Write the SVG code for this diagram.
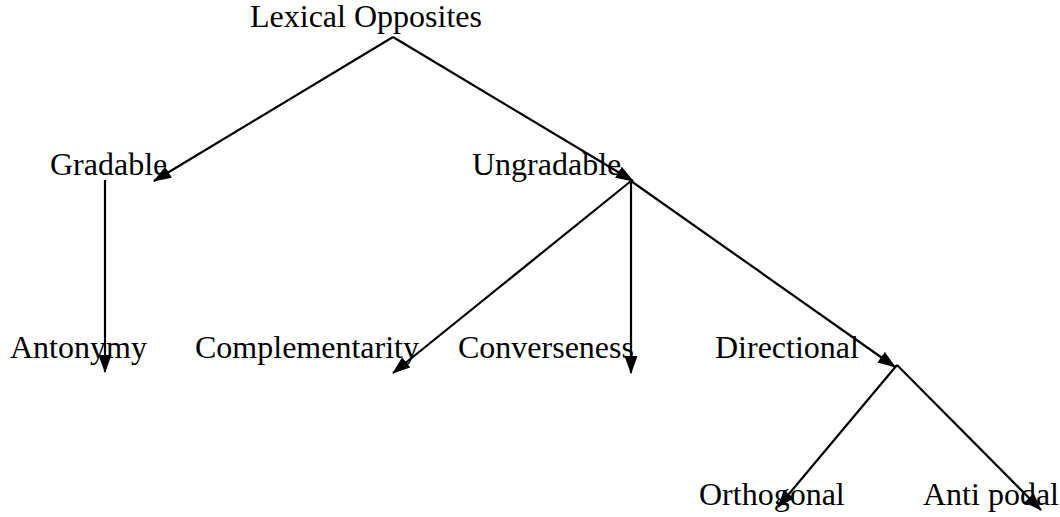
<svg xmlns="http://www.w3.org/2000/svg" width="1060" height="517" viewBox="0 0 1060 517">
<defs>
<marker id="arr" markerWidth="18" markerHeight="13" refX="17" refY="6.5" orient="auto" markerUnits="userSpaceOnUse">
<path d="M0,0 L18,6.5 L0,13 Z" fill="#000"/>
</marker>
<style>
text{font-family:"Liberation Serif","Times New Roman",serif;font-size:32px;fill:#000}
.c line{stroke:#000;stroke-width:2.2;fill:none}
.c line.a{marker-end:url(#arr)}
</style>
</defs>
<rect width="1060" height="517" fill="#fff"/>
<g id="n-lexical"><text x="250" y="27">Lexical Opposites</text></g>
<g id="n-gradable"><text x="50" y="175">Gradable</text></g>
<g id="n-ungradable"><text x="472" y="175">Ungradable</text></g>
<g id="n-antonymy"><text x="10" y="358">Antonymy</text></g>
<g id="n-complementarity"><text x="195" y="358">Complementarity</text></g>
<g id="n-converseness"><text x="458" y="358">Converseness</text></g>
<g id="n-directional"><text x="715" y="358">Directional</text></g>
<g id="n-orthogonal"><text x="699" y="505">Orthogonal</text></g>
<g id="n-antipodal"><text x="923" y="505">Anti podal</text></g>
<g class="c" id="connectors">
<line class="a" x1="393" y1="37" x2="154" y2="181"/>
<line class="a" x1="393" y1="37" x2="633" y2="181"/>
<line class="a" x1="105" y1="180" x2="105" y2="372"/>
<line class="a" x1="631" y1="181" x2="393" y2="373"/>
<line class="a" x1="631" y1="181" x2="631" y2="373"/>
<line class="a" x1="631" y1="181" x2="895" y2="367"/>
<line class="a" x1="897" y1="365" x2="778" y2="507"/>
<line class="a" x1="897" y1="365" x2="1041" y2="510"/>
</g>
</svg>
